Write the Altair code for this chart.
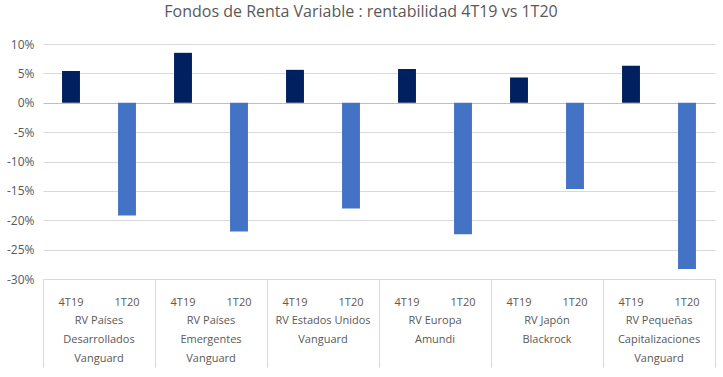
import altair as alt
import pandas as pd

groups = [
    "RV Países\nDesarrollados\nVanguard",
    "RV Países\nEmergentes\nVanguard",
    "RV Estados Unidos\nVanguard",
    "RV Europa\nAmundi",
    "RV Japón\nBlackrock",
    "RV Pequeñas\nCapitalizaciones\nVanguard",
]
periods = ["4T19", "1T20"]
v_4t19 = [5.4, 8.5, 5.6, 5.75, 4.3, 6.3]
v_1t20 = [-19.2, -21.9, -18.0, -22.4, -14.7, -28.3]
y_ticks = [-0.30, -0.25, -0.20, -0.15, -0.10, -0.05, 0.0, 0.05, 0.10]

rows = []
for g, a, b in zip(groups, v_4t19, v_1t20):
    rows.append({"group": g, "period": periods[0], "value": a / 100})
    rows.append({"group": g, "period": periods[1], "value": b / 100})
df = pd.DataFrame(rows)
gdf = pd.DataFrame({"group": groups})

FONT = "Open Sans"
GREY = "#595959"
LINE = "#d9d9d9"

x_enc = alt.X(
    "group:N",
    sort=groups,
    scale=alt.Scale(paddingInner=0, paddingOuter=0),
    axis=alt.Axis(
        title=None,
        labels=False,
        tickBand="extent",
        tickSize=88,
        tickColor=LINE,
        domainColor=LINE,
        grid=False,
    ),
)
xoff_enc = alt.XOffset(
    "period:N", sort=periods, scale=alt.Scale(paddingInner=0.68, paddingOuter=0.34)
)
y_enc = alt.Y(
    "value:Q",
    scale=alt.Scale(domain=[-0.30, 0.10], nice=False, zero=False),
    axis=alt.Axis(
        title=None,
        values=y_ticks,
        labelExpr="round(datum.value*100) + '%'",
        labelOverlap=False,
        domain=False,
        ticks=False,
        gridColor={"condition": {"test": "abs(datum.value) < 0.001", "value": "#bfbfbf"}, "value": LINE},
        labelColor=GREY,
        labelFontSize=12,
        labelFont=FONT,
        labelPadding=9,
    ),
)

bars = alt.Chart(df).mark_bar().encode(
    x=x_enc,
    xOffset=xoff_enc,
    y=y_enc,
    color=alt.Color(
        "period:N",
        scale=alt.Scale(domain=periods, range=["#002060", "#4472C4"]),
        legend=None,
    ),
)

period_labels = alt.Chart(df).mark_text(
    font=FONT, fontSize=11, color=GREY, baseline="middle"
).encode(x=x_enc, xOffset=xoff_enc, text="period:N", y=alt.value(259))

group_labels = alt.Chart(gdf).mark_text(
    font=FONT, fontSize=11, color=GREY, baseline="top", lineBreak="\n", lineHeight=19
).encode(x=x_enc, text="group:N", y=alt.value(271))

chart = (
    alt.layer(bars, period_labels, group_labels)
    .properties(
        width=672,
        height=235,
        autosize="none",
        padding={"left": 43, "top": 44, "right": 8, "bottom": 98},
        title=alt.TitleParams(
            "Fondos de Renta Variable : rentabilidad 4T19 vs 1T20",
            font=FONT,
            fontSize=16,
            fontWeight="normal",
            color=GREY,
            anchor="middle",
            dx=-18,
            offset=18,
        ),
    )
    .configure_view(stroke=None)
)

chart.save("out.html", embed_options={"renderer": "svg", "actions": False})
